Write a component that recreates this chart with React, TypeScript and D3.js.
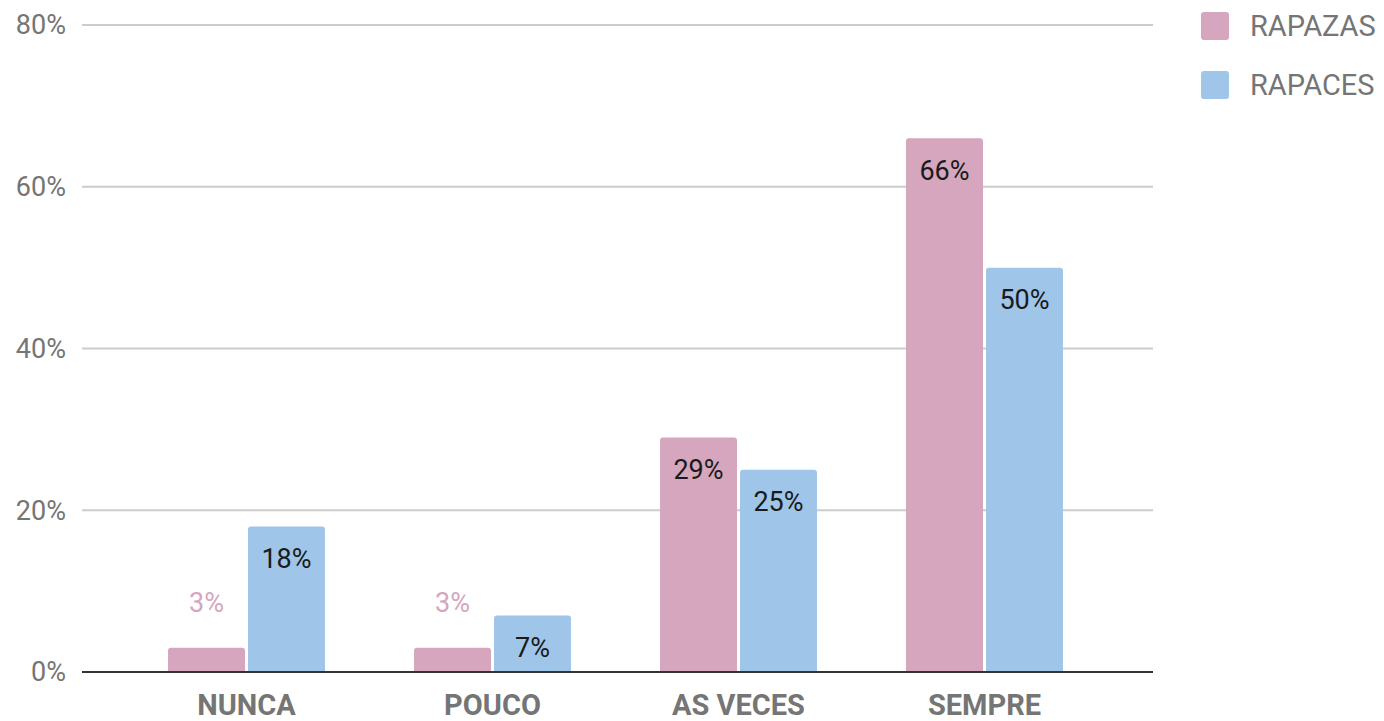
import React from "react";
import * as d3 from "d3";

const categories = ["NUNCA", "POUCO", "AS VECES", "SEMPRE"];
const seriesNames = ["RAPAZAS", "RAPACES"];
const rapazas = [3, 3, 29, 66];
const rapaces = [18, 7, 25, 50];
const yTicks = [0, 20, 40, 60, 80];

const colors = ["#d5a6bd", "#9fc5e8"];
const W = 1384, H = 721;

export default function App() {
  const y = d3.scaleLinear().domain([0, 80]).range([672, 25]);
  const x0 = d3.scaleBand<string>()
    .domain(categories)
    .range([123.5, 1107.5])
    .paddingInner(0.362)
    .paddingOuter(0.181);
  const x1 = d3.scaleBand<string>()
    .domain(seriesNames)
    .range([0, x0.bandwidth()])
    .paddingInner(0.0375);
  const data = [rapazas, rapaces];
  const font = "Roboto, 'Noto Sans', sans-serif";

  const barPath = (x: number, yTop: number, w: number, h: number, r: number) => {
    const rr = Math.min(r, h / 2, w / 2);
    return `M${x},${yTop + h}V${yTop + rr}Q${x},${yTop} ${x + rr},${yTop}H${x + w - rr}Q${x + w},${yTop} ${x + w},${yTop + rr}V${yTop + h}Z`;
  };

  return (
    <svg width={W} height={H} style={{ position: "absolute", left: 0, top: 0, background: "#fff" }} fontFamily={font}>
      {yTicks.map(t => (
        <g key={t}>
          {t !== 0 && <line x1={82} x2={1153} y1={y(t)} y2={y(t)} stroke="#cccccc" strokeWidth={2} />}
          <text x={66} y={y(t)} dy="0.35em" textAnchor="end" fontSize={27} fill="#757575">{t}%</text>
        </g>
      ))}
      {categories.map((c, i) => (
        <g key={c} transform={`translate(${x0(c)},0)`}>
          {seriesNames.map((s, j) => {
            const v = data[j][i];
            const bx = x1(s)!;
            const bw = x1.bandwidth();
            const top = y(v);
            const inside = y(0) - top > 40;
            return (
              <g key={s}>
                <path d={barPath(bx, top, bw, y(0) - top, 3)} fill={colors[j]} />
                <text
                  x={bx + bw / 2}
                  y={inside ? top + 32 : top - 45}
                  dy="0.35em"
                  textAnchor="middle"
                  fontSize={27}
                  fill={inside ? "#1a1a1a" : colors[j]}
                >{v}%</text>
              </g>
            );
          })}
          <text x={x0.bandwidth() / 2} y={705} dy="0.35em" textAnchor="middle" fontSize={29} fontWeight="bold" fill="#757575">{c}</text>
        </g>
      ))}
      <line x1={82} x2={1153} y1={y(0)} y2={y(0)} stroke="#333" strokeWidth={2} />
      {seriesNames.map((s, j) => (
        <g key={s} transform={`translate(1201,${12 + j * 59})`}>
          <rect width={28} height={28} rx={3} fill={colors[j]} />
          <text x={49} y={14} dy="0.35em" fontSize={29} fill="#757575">{s}</text>
        </g>
      ))}
    </svg>
  );
}
